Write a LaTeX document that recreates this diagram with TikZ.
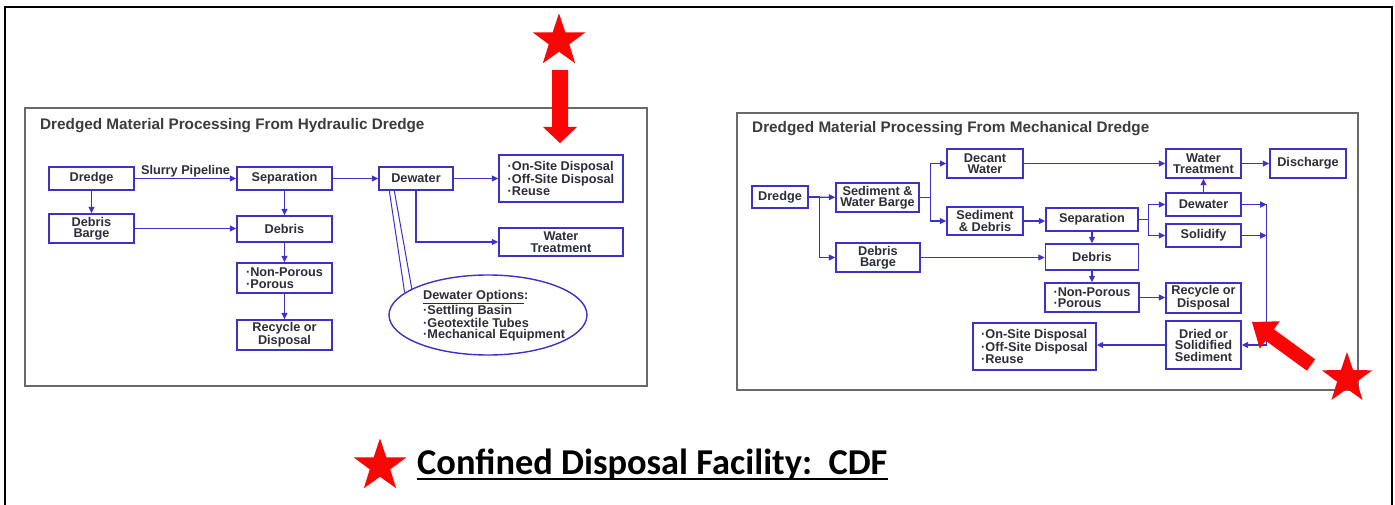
\documentclass[tikz,border=0pt]{standalone}
\usepackage{fontspec}
\setmainfont{Liberation Sans}
\newfontfamily\calibrifont{Carlito}
\usetikzlibrary{arrows.meta,shapes.geometric,calc}
\definecolor{flow}{RGB}{62,48,200}
\definecolor{ink}{RGB}{45,45,55}
\definecolor{titleink}{RGB}{60,60,60}
\definecolor{panel}{RGB}{105,105,105}
\definecolor{cdfred}{RGB}{250,5,5}
\newcommand{\itm}{\textperiodcentered}

\begin{document}
\begin{tikzpicture}[x=1pt,y=-1pt,
  box/.style={draw=flow, line width=1.4pt, fill=white, inner sep=0pt, align=center,
    text=ink, font=\bfseries\fontsize{12.7}{11.5}\selectfont},
  boxtext/.style={inner sep=0pt, align=left, text=ink, font=\bfseries\fontsize{12.7}{11.5}\selectfont},
  arr/.style={draw=flow, line width=1.2pt, -{Triangle[length=6.5pt,width=6pt]}},
  link/.style={draw=flow, line width=1.2pt},
  frame/.style={draw=panel, line width=2pt},
  paneltitle/.style={inner sep=0pt, anchor=base west, text=titleink, font=\bfseries\fontsize{15.3}{18}\selectfont},
  cdfstar/.style={star, star points=5, star point ratio=2.55, fill=cdfred, inner sep=0pt, draw=none}]

\useasboundingbox (0,0) rectangle (1395,505);

% page frame, open at the bottom
\draw[black, line width=2.5pt] (5,505) -- (5,7) -- (1392,7) -- (1392,505);

% ---------------- hydraulic dredge panel ----------------
\draw[frame] (25,108) rectangle (647,386);
\node[paneltitle] (ltitle) at (40,130) {Dredged Material Processing From Hydraulic Dredge};

\node[box, minimum width=85, minimum height=23] (ldredge) at (91.5,178.5) {Dredge};
\node[box, minimum width=85, minimum height=29] (lbarge) at (91.5,228.5) {Debris\\Barge};
\node[box, minimum width=95, minimum height=23] (lsep) at (284.5,178.5) {Separation};
\node[box, minimum width=95, minimum height=26] (ldebris) at (284.5,229) {Debris};
\node[box, minimum width=95, minimum height=30, align=left] (lporous) at (284.5,278) {\itm Non-Porous\\\itm Porous};
\node[box, minimum width=95, minimum height=30] (lrecycle) at (284.5,335) {Recycle or\\Disposal};
\node[box, minimum width=74, minimum height=23] (ldewater) at (416,178.5) {Dewater};
\node[box, minimum width=124, minimum height=47, align=left] (ldisp) at (561,178.5) {\itm On-Site Disposal\\\itm Off-Site Disposal\\\itm Reuse};
\node[box, minimum width=124, minimum height=28] (lwater) at (561,242) {Water\\Treatment};
\node[draw=flow, line width=1.4pt, ellipse, minimum width=198, minimum height=80, inner sep=0pt] (lopts) at (488,315) {};
\node[boxtext, anchor=north west] (loptstext) at (423,290) {\underline{Dewater Options}:\\\itm Settling Basin\\\itm Geotextile Tubes\\\itm Mechanical Equipment};

\draw[arr] (ldredge) -- node[above=1pt, boxtext] (slurry) {Slurry Pipeline} (lsep);
\draw[arr] (ldredge) -- (lbarge);
\draw[arr] (lbarge.east) -- (lbarge.east -| ldebris.west);
\draw[arr] (lsep) -- (ldebris);
\draw[arr] (ldebris) -- (lporous);
\draw[arr] (lporous) -- (lrecycle);
\draw[arr] (lsep) -- (ldewater);
\draw[arr] (ldewater) -- (ldisp.west |- ldewater);
\draw[arr] (ldewater.south) |- (lwater.west);
% callout from Dewater to its options
\draw[link, line width=1pt] ($(ldewater.south west)+(11,0)$) -- (lopts.165);
\draw[link, line width=1pt] ($(ldewater.south west)+(16,0)$) -- (lopts.161);

% ---------------- mechanical dredge panel ----------------
\draw[frame] (737,113) rectangle (1358,390);
\node[paneltitle] (rtitle) at (752,133) {Dredged Material Processing From Mechanical Dredge};

\node[box, minimum width=56, minimum height=22] (rdredge) at (780,197) {Dredge};
\node[box, minimum width=83, minimum height=29] (rbarge) at (877.5,197.5) {Sediment \&\\Water Barge};
\node[box, minimum width=76, minimum height=29] (rdecant) at (985,163.5) {Decant\\Water};
\node[box, minimum width=76, minimum height=28] (rseddeb) at (985,221) {Sediment\\\& Debris};
\node[box, minimum width=84, minimum height=29] (rdbarge) at (878,257.5) {Debris\\Barge};
\node[box, minimum width=92, minimum height=23] (rsep) at (1092,219.5) {Separation};
\node[box, minimum width=93, minimum height=26] (rdebris) at (1092,257) {Debris};
\node[box, minimum width=94, minimum height=29, align=left] (rporous) at (1092,297.5) {\itm Non-Porous\\\itm Porous};
\node[box, minimum width=75, minimum height=29] (rwater) at (1203.5,163.5) {Water\\Treatment};
\node[box, minimum width=76, minimum height=29] (rdischarge) at (1308,163.5) {Discharge};
\node[box, minimum width=75, minimum height=23] (rdewater) at (1203.5,204.5) {Dewater};
\node[box, minimum width=75, minimum height=23] (rsolid) at (1203.5,235.5) {Solidify};
\node[box, minimum width=75, minimum height=30] (rrecycle) at (1203.5,298) {Recycle or\\Disposal};
\node[box, minimum width=75, minimum height=48] (rdried) at (1203.5,345) {Dried or\\Solidified\\Sediment};
\node[box, minimum width=123, minimum height=47, align=left] (rdisp) at (1034.5,346.5) {\itm On-Site Disposal\\\itm Off-Site Disposal\\\itm Reuse};

\draw[arr] (rdredge) -- (rbarge);
\draw[arr] (rdredge.east) -- ++(11,0) |- (rdbarge.west);
\draw[arr] (rbarge.east) -- ++(11,0) |- (rdecant.west);
\draw[arr] (rbarge.east) -- ++(11,0) |- (rseddeb.west);
\draw[arr] (rseddeb.east) -- (rseddeb.east -| rsep.west);
\draw[arr] (rdecant) -- (rwater);
\draw[arr] (rwater) -- (rdischarge);
\draw[arr] (rdbarge.east) -- (rdbarge.east -| rdebris.west);
\draw[arr] (rsep) -- (rdebris);
\draw[arr] (rdebris) -- (rporous);
\draw[arr] (rporous.east) -- (rporous.east -| rrecycle.west);
\draw[arr] (rsep.east) -- ++(10,0) |- (rdewater.west);
\draw[arr] (rsep.east) -- ++(10,0) |- (rsolid.west);
\draw[arr] (rdewater) -- (rwater);
\coordinate (bus) at ($(rdewater.east)+(25,0)$);
\draw[arr] (rdewater.east) -- (bus);
\draw[arr] (rsolid.east) -- (rsolid.east -| bus);
\draw[arr] (bus) |- (rdried.east);
\draw[arr] (rdried.west) -- (rdried.west -| rdisp.east);

% ---------------- CDF markers ----------------
\node[cdfstar, minimum size=55] (topstar) at (559,41) {};
\fill[cdfred] (552,70) -- (568,70) -- (568,127) -- (577,127) -- (560,143) -- (543,127) -- (552,127) -- cycle;

\node[cdfstar, minimum size=53] (sidestar) at (1347,378.5) {};
\fill[cdfred] (1252,322) -- (1279.8,321.3) -- (1273.9,329.3) -- (1315.1,359.3)
  -- (1306.9,370.7) -- (1265.7,340.7) -- (1259.8,348.7) -- cycle;

\node[cdfstar, minimum size=55] (keystar) at (380,466) {};
\node[inner sep=0pt, anchor=base west, font=\calibrifont\bfseries\fontsize{36.4}{40}\selectfont] (cdf) at (417,474) {Confined Disposal Facility:\ \ CDF};
\draw[line width=2pt] ([yshift=-5pt]cdf.base west) -- ([yshift=-5pt]cdf.base east);

\end{tikzpicture}
\end{document}
